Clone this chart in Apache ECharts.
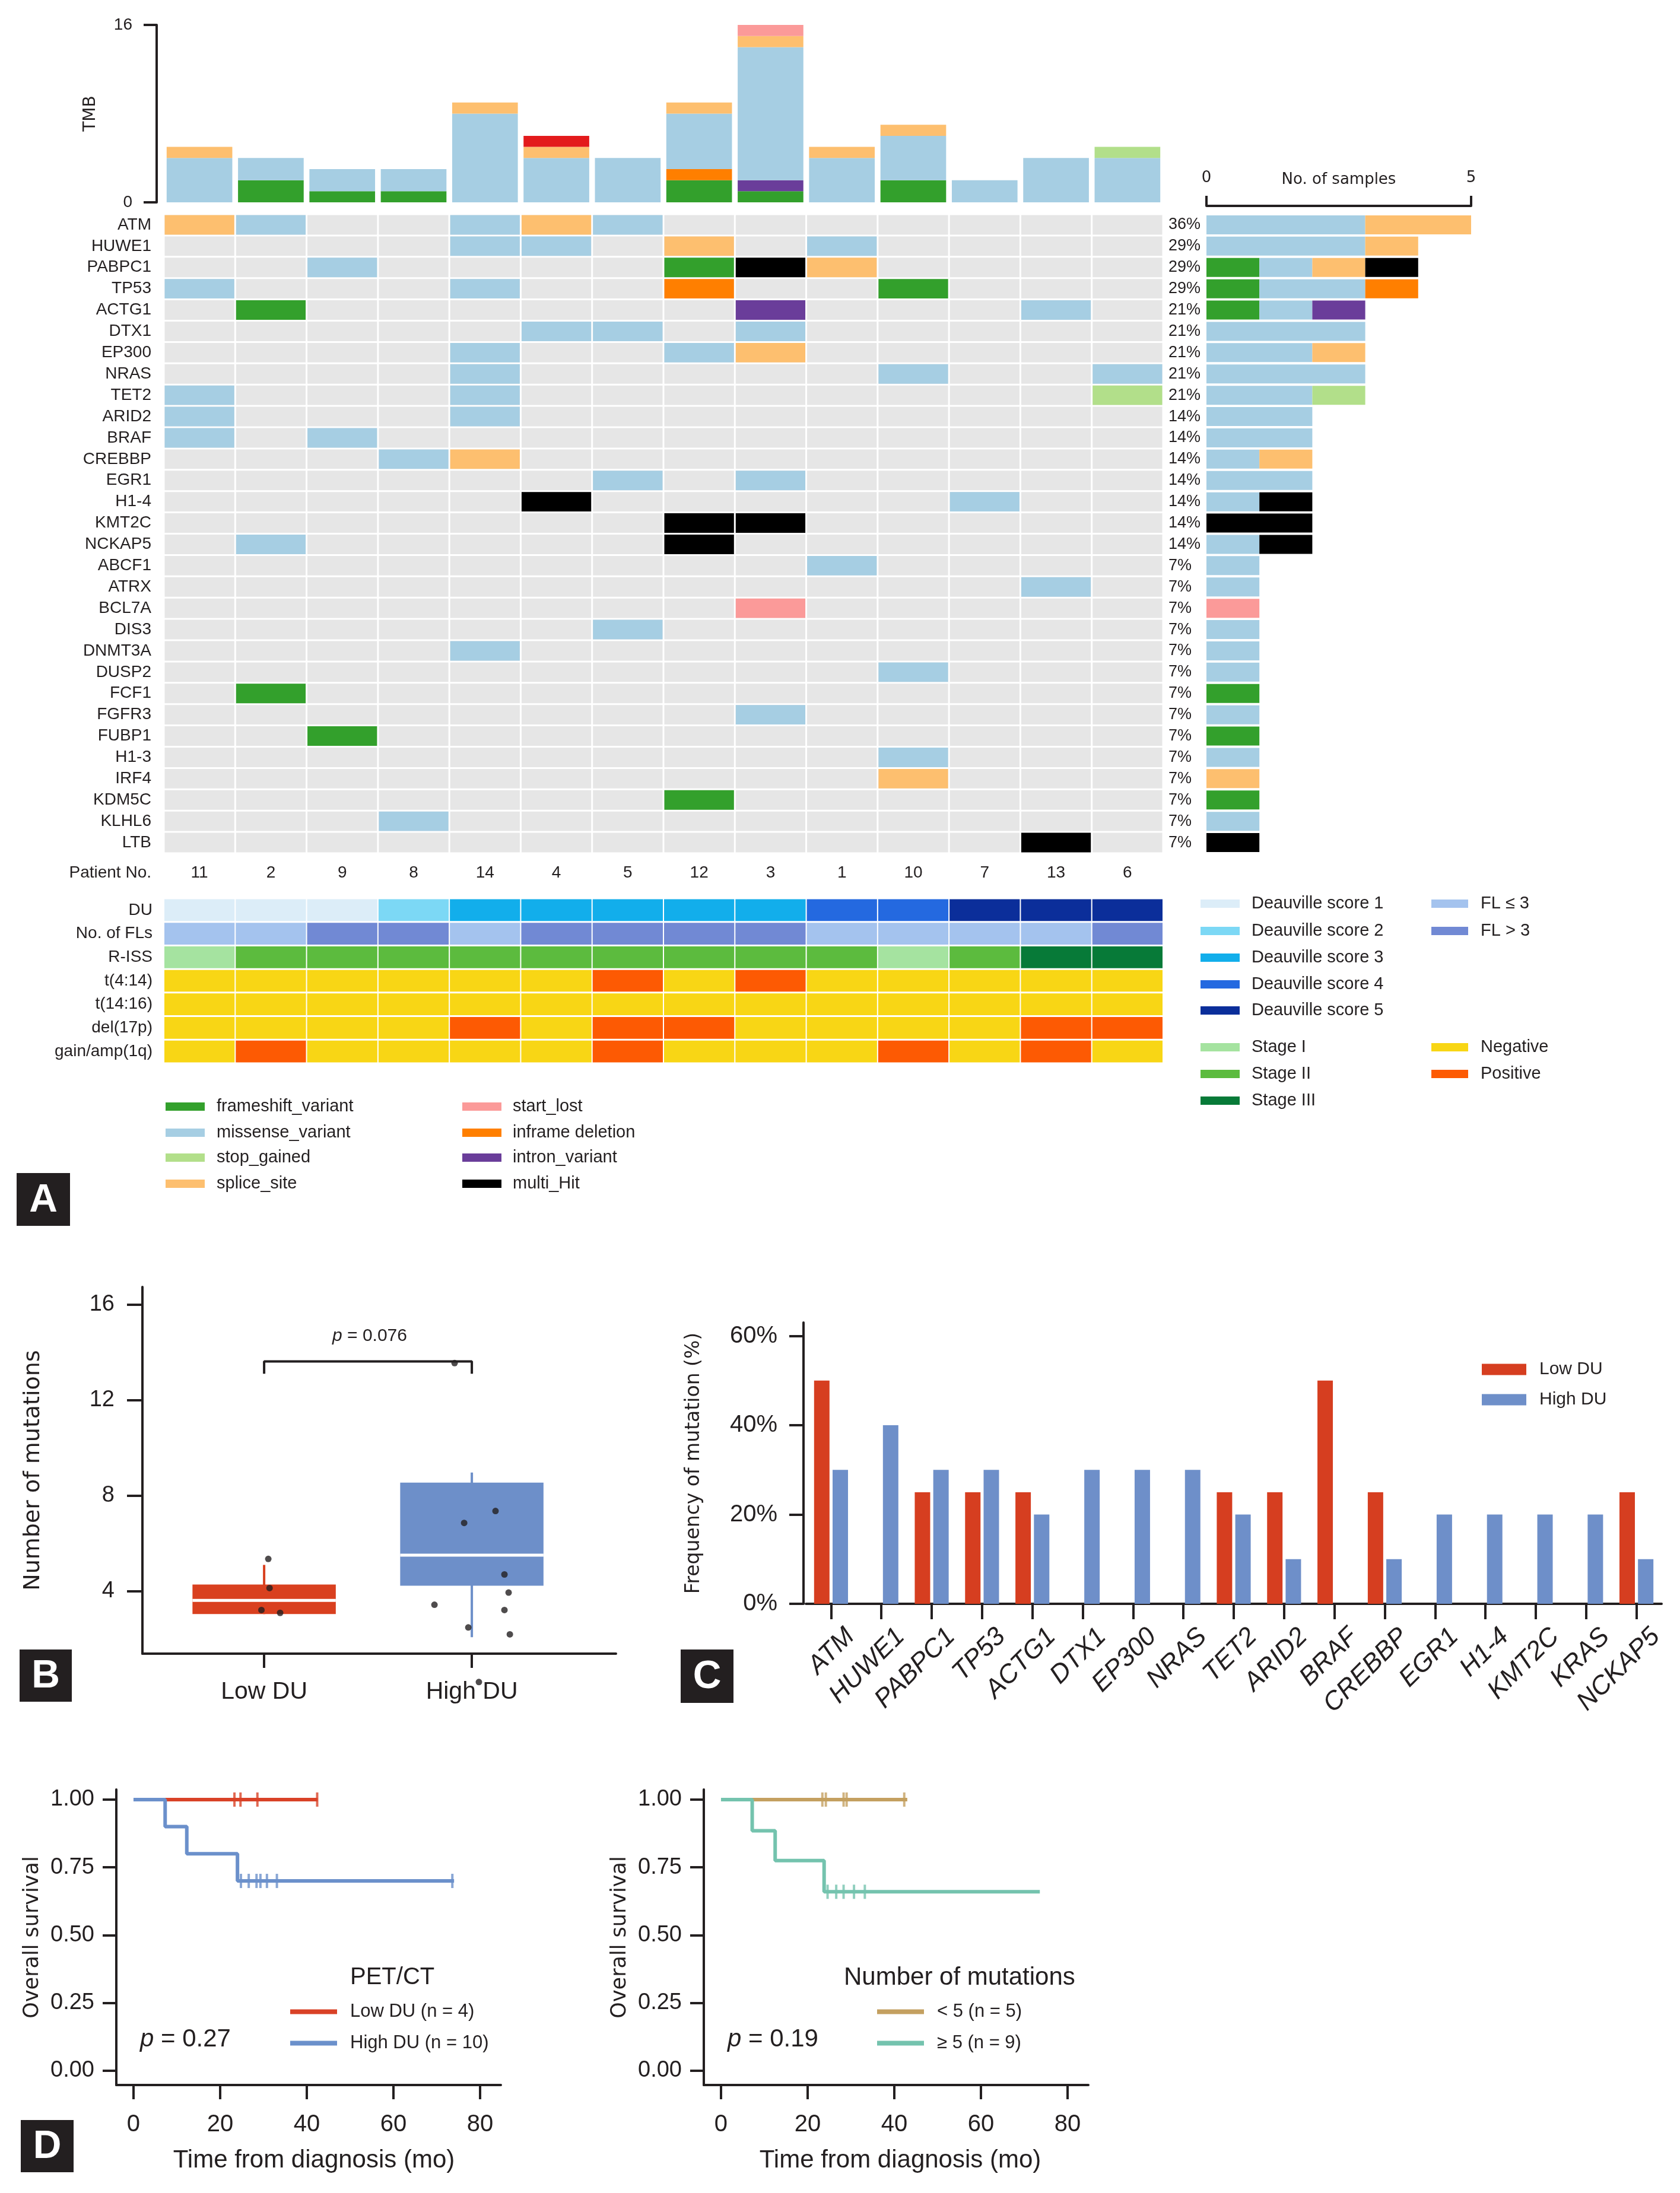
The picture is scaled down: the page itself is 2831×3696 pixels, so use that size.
<!DOCTYPE html>
<html><head><meta charset="utf-8">
<script src="https://cdn.jsdelivr.net/npm/echarts@6/dist/echarts.min.js"></script>
<style>html,body{margin:0;padding:0;background:#fff}#c{width:2831px;height:3696px}</style>
</head><body><div id="c"></div>
<script>
// ---------------- DATA ----------------
const patients = ['11','2','9','8','14','4','5','12','3','1','10','7','13','6'];
const genes = ['ATM','HUWE1','PABPC1','TP53','ACTG1','DTX1','EP300','NRAS','TET2','ARID2','BRAF','CREBBP','EGR1','H1-4','KMT2C','NCKAP5','ABCF1','ATRX','BCL7A','DIS3','DNMT3A','DUSP2','FCF1','FGFR3','FUBP1','H1-3','IRF4','KDM5C','KLHL6','LTB'];
// codes: F frameshift, M missense, G stop_gained, S splice_site, L start_lost, I inframe deletion, N intron_variant, H multi_Hit
const oncoRows = [
 'SM..MSM.......', // ATM
 '....MM.S.M....', // HUWE1
 '..M....FHS....', // PABPC1
 'M...M..I..F...', // TP53
 '.F......N...M.', // ACTG1
 '.....MM.M.....', // DTX1
 '....M..MS.....', // EP300
 '....M.....M..M', // NRAS
 'M...M........G', // TET2
 'M...M.........', // ARID2
 'M.M...........', // BRAF
 '...MS.........', // CREBBP
 '......M.M.....', // EGR1
 '.....H.....M..', // H1-4
 '.......HH.....', // KMT2C
 '.M.....H......', // NCKAP5
 '.........M....', // ABCF1
 '............M.', // ATRX
 '........L.....', // BCL7A
 '......M.......', // DIS3
 '....M.........', // DNMT3A
 '..........M...', // DUSP2
 '.F............', // FCF1
 '........M.....', // FGFR3
 '..F...........', // FUBP1
 '..........M...', // H1-3
 '..........S...', // IRF4
 '.......F......', // KDM5C
 '...M..........', // KLHL6
 '............H.'  // LTB
];
const mutTypes = ['frameshift_variant','missense_variant','stop_gained','splice_site','start_lost','inframe deletion','intron_variant','multi_Hit'];
const mutCodes = ['F','M','G','S','L','I','N','H'];

// TMB per patient, by variant class
const tmbFrameshift = [0,2,1,1,0,0,0,2,1,0,2,0,0,0];
const tmbIntron     = [0,0,0,0,0,0,0,0,1,0,0,0,0,0];
const tmbInframe    = [0,0,0,0,0,0,0,1,0,0,0,0,0,0];
const tmbMissense   = [4,2,2,2,8,4,4,5,12,4,4,2,4,4];
const tmbSplice     = [1,0,0,0,1,1,0,1,1,1,1,0,0,0];
const tmbStop       = [0,0,0,0,0,0,0,0,0,0,0,0,0,1];
const tmbOther      = [0,0,0,0,0,1,0,0,0,0,0,0,0,0];
const tmbStartLost  = [0,0,0,0,0,0,0,0,1,0,0,0,0,0];

// clinical annotation
const clinRows = ['DU','No. of FLs','R-ISS','t(4:14)','t(14:16)','del(17p)','gain/amp(1q)'];
const clinDU    = [1,1,1,2,3,3,3,3,3,4,4,5,5,5];   // Deauville score
const clinFLs   = [0,0,1,1,0,1,1,1,1,0,0,0,0,1];   // 0: FL <= 3, 1: FL > 3
const clinRISS  = [1,2,2,2,2,2,2,2,2,2,1,2,3,3];   // stage
const clinT414  = [0,0,0,0,0,0,1,0,1,0,0,0,0,0];
const clinT1416 = [0,0,0,0,0,0,0,0,0,0,0,0,0,0];
const clinDel17p= [0,0,0,0,1,0,1,1,0,0,0,0,1,1];
const clinGain1q= [0,1,0,0,0,0,1,0,0,0,1,0,1,0];

// Panel B
const boxGroups = ['Low DU','High DU'];
const boxStats = [[3.03,3.03,3.6,4.27,5.09],[2.06,4.22,5.5,8.54,8.96]]; // min,q1,median,q3,max
const lowDuPoints  = [[1.02,5.34],[1.026,4.12],[0.987,3.2],[1.077,3.08]];
const highDuPoints = [[1.917,13.55],[1.963,6.85],[2.114,7.35],[2.157,4.69],[2.177,3.93],[1.82,3.42],[2.157,3.2],[1.983,2.47],[2.183,2.18],[2.034,0.18]];

// Panel C
const freqGenes  = ['ATM','HUWE1','PABPC1','TP53','ACTG1','DTX1','EP300','NRAS','TET2','ARID2','BRAF','CREBBP','EGR1','H1-4','KMT2C','KRAS','NCKAP5'];
const freqLowDU  = [50,0,25,25,25,0,0,0,25,25,50,25,0,0,0,0,25];
const freqHighDU = [30,40,30,30,20,30,30,30,20,10,0,10,20,20,20,20,10];

// Panel D
const kmLowDU = [[0,1],[42.5,1]];
const kmLowDUCensor = [23.3,24.7,28.6,42.4];
const kmHighDU = [[0,1],[7.3,0.9],[12.3,0.8],[24.0,0.7],[74.0,0.7]];
const kmHighDUCensor = [24.8,26.6,28.4,29.3,30.8,33.1,73.6];
const kmLt5 = [[0,1],[43.0,1]];
const kmLt5Censor = [23.4,24.2,28.3,29.0,42.3];
const kmGe5 = [[0,1],[7.2,0.885],[12.5,0.775],[23.8,0.66],[73.6,0.66]];
const kmGe5Censor = [24.6,26.6,28.3,30.7,33.2];
const kmTicksX = [0,20,40,60,80];
const kmTicksY = [0,0.25,0.5,0.75,1];

// ---------------- STYLE ----------------
const INK = '#231f20';
const SANS = '"Liberation Sans", Arial, sans-serif';
const WIDE = '"DejaVu Sans", Verdana, sans-serif';
const typeColor = {
  'frameshift_variant':'#33a02c','missense_variant':'#a6cee3','stop_gained':'#b2df8a','splice_site':'#fdbf6f',
  'start_lost':'#fb9a99','inframe deletion':'#ff7f00','intron_variant':'#6a3d9a','multi_Hit':'#000000','other':'#e31a1c'
};
const clinColors = [
  ['#dcedf8','#7cd8f5','#12aeeb','#2469e0','#0b2e9a'],
  ['#a4c3ee','#7189d4'],
  ['#a5e3a0','#5cbb3e','#077a38'],
  ['#f8d615','#fd5a03'],['#f8d615','#fd5a03'],['#f8d615','#fd5a03'],['#f8d615','#fd5a03']
];
const RED = '#d9401f', BLUE = '#6d8fc9', TAN = '#c4a060', TEAL = '#74c3ae';

// ---------------- DERIVED ----------------
const nP = patients.length;
const geneCounts = oncoRows.map(r => r.split('').filter(c => c !== '.').length);
const genePct = geneCounts.map(c => Math.round(c / nP * 100) + '%');
const bgCells = [], mutCells = [];
genes.forEach((g, r) => { for (let c = 0; c < nP; c++) { bgCells.push([c, r, 0]); const ch = oncoRows[r][c]; if (ch !== '.') mutCells.push([c, r, mutCodes.indexOf(ch)]); } });
const clinValues = [clinDU.map(v=>v-1), clinFLs, clinRISS.map(v=>v-1), clinT414, clinT1416, clinDel17p, clinGain1q];
const clinCells = [];
clinValues.forEach((arr, r) => arr.forEach((v, c) => clinCells.push([c, r, v])));

function cellRenderer(colorFn, gx, gy) {
  return function (params, api) {
    const p = api.coord([api.value(0), api.value(1)]);
    const s = api.size([1, 1]);
    const w = s[0] - gx, h = s[1] - gy;
    return { type: 'rect', shape: { x: p[0] - w / 2, y: p[1] - h / 2, width: w, height: h }, style: { fill: colorFn(api.value(2), api.value(1)) } };
  };
}
function survAt(curve, t) { let s = curve[0][1]; curve.forEach(p => { if (p[0] <= t) s = p[1]; }); return s; }
const censorPts = (curve, ts) => ts.map(t => [t, survAt(curve, t)]);

// ---------------- AXES ----------------
const hid = { axisLine:{show:false}, axisTick:{show:false}, axisLabel:{show:false}, splitLine:{show:false} };
const axLine = { show:true, onZero:false, lineStyle:{ color:INK, width:4 } };
const axTick = (len, extra) => Object.assign({ show:true, length:len, lineStyle:{ color:INK, width:4 } }, extra || {});

const kmX = (gi) => ({ gridIndex:gi, type:'value', min:-3.97, max:84.8, axisLine:axLine,
  axisTick:axTick(24,{customValues:kmTicksX}), axisLabel:{customValues:kmTicksX, fontSize:40, color:INK, margin:47, fontFamily:SANS},
  splitLine:{show:false} });
const kmY = (gi) => ({ gridIndex:gi, type:'value', min:-0.0525, max:1.037, axisLine:axLine,
  axisTick:axTick(23,{customValues:kmTicksY}), axisLabel:{customValues:kmTicksY, formatter:v=>v.toFixed(2), fontSize:38, color:INK, margin:37, fontFamily:SANS},
  splitLine:{show:false}, name:'Overall survival', nameLocation:'middle', nameGap:124, nameMoveOverlap:false,
  nameTextStyle:{fontSize:35, color:INK, fontFamily:WIDE} });

const xAxis = [
  Object.assign({ gridIndex:0, type:'category', data:patients }, hid),
  { gridIndex:1, type:'category', data:patients, position:'bottom', axisLine:{show:false}, axisTick:{show:false}, splitLine:{show:false},
    axisLabel:{ interval:0, fontSize:28, color:INK, margin:19 } },
  { gridIndex:2, type:'value', min:0, max:5, interval:5, position:'top', offset:14, axisLine:axLine, axisTick:axTick(17),
    axisLabel:{ fontFamily:WIDE, fontSize:26, color:INK, margin:34 }, splitLine:{show:false},
    name:'No. of samples', nameLocation:'middle', nameGap:31, nameMoveOverlap:false, nameTextStyle:{ fontFamily:WIDE, fontSize:26, color:INK } },
  Object.assign({ gridIndex:3, type:'category', data:patients }, hid),
  { gridIndex:4, type:'value', min:0.414, max:2.694, axisLine:axLine, axisTick:axTick(24,{customValues:[1,2]}),
    axisLabel:{ customValues:[1,2], formatter:v=>boxGroups[Math.round(v)-1], fontSize:41, color:INK, margin:44 }, splitLine:{show:false} },
  { gridIndex:5, type:'category', data:freqGenes, axisLine:axLine, axisTick:axTick(26,{alignWithLabel:true}),
    axisLabel:{ interval:0, rotate:45, fontSize:44, fontStyle:'italic', color:INK, margin:16, align:'right', verticalAlign:'top', padding:[24,0,0,0] } },
  kmX(6), kmX(7)
];
const yAxis = [
  { gridIndex:0, type:'value', min:0, max:16, interval:16, offset:12, axisLine:axLine, axisTick:axTick(22),
    axisLabel:{ fontSize:28, color:INK, margin:41 }, splitLine:{show:false},
    name:'TMB', nameLocation:'middle', nameGap:97, nameMoveOverlap:false, nameTextStyle:{ fontFamily:WIDE, fontSize:28, color:INK } },
  { gridIndex:1, type:'category', data:genes, inverse:true, axisLine:{show:false}, axisTick:{show:false}, splitLine:{show:false},
    axisLabel:{ interval:0, fontSize:28, color:INK, margin:21 } },
  { gridIndex:1, type:'category', data:genes, inverse:true, position:'right', axisLine:{show:false}, axisTick:{show:false}, splitLine:{show:false},
    axisLabel:{ interval:0, fontSize:27, color:INK, margin:9, formatter:(v,i)=>genePct[i] } },
  Object.assign({ gridIndex:2, type:'category', data:genes, inverse:true }, hid),
  { gridIndex:3, type:'category', data:clinRows, inverse:true, axisLine:{show:false}, axisTick:{show:false}, splitLine:{show:false},
    axisLabel:{ interval:0, fontSize:28, color:INK, margin:19 } },
  { gridIndex:4, type:'value', min:1.37, max:16.74, axisLine:axLine, axisTick:axTick(26,{customValues:[4,8,12,16]}),
    axisLabel:{ customValues:[4,8,12,16], fontSize:38, color:INK, margin:47 }, splitLine:{show:false},
    name:'Number of mutations', nameLocation:'middle', nameGap:165, nameMoveOverlap:false, nameTextStyle:{ fontFamily:WIDE, fontSize:38, color:INK } },
  { gridIndex:5, type:'value', min:0, max:63, offset:4, axisLine:axLine, axisTick:axTick(24,{customValues:[0,20,40,60]}),
    axisLabel:{ customValues:[0,20,40,60], formatter:'{value}%', fontSize:40, color:INK, margin:44 }, splitLine:{show:false},
    name:'Frequency of mutation (%)', nameLocation:'middle', nameGap:168, nameMoveOverlap:false, nameTextStyle:{ fontFamily:WIDE, fontSize:33, color:INK } },
  kmY(6), kmY(7)
];

// ---------------- SERIES ----------------
const series = [];
[['frameshift_variant',tmbFrameshift],['intron_variant',tmbIntron],['inframe deletion',tmbInframe],['missense_variant',tmbMissense],
 ['splice_site',tmbSplice],['stop_gained',tmbStop],['other',tmbOther],['start_lost',tmbStartLost]].forEach(([n, d]) => {
  series.push({ name:n, type:'bar', xAxisIndex:0, yAxisIndex:0, stack:'tmb', data:d, barCategoryGap:'8%', itemStyle:{ color:typeColor[n] } });
});
series.push({ type:'custom', name:'bg', xAxisIndex:1, yAxisIndex:1, data:bgCells, renderItem:cellRenderer(() => '#e6e6e6', 3, 3) });
series.push({ type:'custom', name:'mutations', xAxisIndex:1, yAxisIndex:1, data:mutCells, renderItem:cellRenderer(k => typeColor[mutTypes[k]], 3, 3) });
mutTypes.forEach((t, k) => {
  series.push({ name:t, type:'bar', xAxisIndex:2, yAxisIndex:3, stack:'samples', barCategoryGap:'11%', itemStyle:{ color:typeColor[t] },
    data: oncoRows.map(r => r.split('').filter(c => c === mutCodes[k]).length) });
});
series.push({ type:'custom', name:'clinical', xAxisIndex:3, yAxisIndex:4, data:clinCells, renderItem:cellRenderer((v, r) => clinColors[r][v], 2, 3) });

// Panel B
const boxColors = [RED, BLUE];
series.push({ type:'custom', name:'boxes', xAxisIndex:4, yAxisIndex:5, data: boxStats.map((s, i) => [i + 1].concat(s)),
  encode:{ x:0, y:[1,2,3,4,5] },
  renderItem: function (params, api) {
    const x = api.value(0), col = boxColors[params.dataIndex];
    const pMin = api.coord([x, api.value(1)]), pQ1 = api.coord([x, api.value(2)]), pMd = api.coord([x, api.value(3)]);
    const pQ3 = api.coord([x, api.value(4)]), pMax = api.coord([x, api.value(5)]);
    const hw = api.size([0.69, 0])[0] / 2;
    return { type:'group', children:[
      { type:'line', shape:{ x1:pMin[0], y1:pMin[1], x2:pMax[0], y2:pMax[1] }, style:{ stroke:col, lineWidth:4 } },
      { type:'rect', shape:{ x:pQ3[0]-hw, y:pQ3[1], width:2*hw, height:pQ1[1]-pQ3[1] }, style:{ fill:col } },
      { type:'line', shape:{ x1:pMd[0]-hw, y1:pMd[1], x2:pMd[0]+hw, y2:pMd[1] }, style:{ stroke:'#fff', lineWidth:5 } }
    ]};
  } });
series.push({ type:'scatter', name:'points', xAxisIndex:4, yAxisIndex:5, data:lowDuPoints.concat(highDuPoints), symbolSize:11, clip:false, itemStyle:{ color:INK } });
series.push({ type:'line', name:'bracket', xAxisIndex:4, yAxisIndex:5, data:[[1,13.1],[1,13.62],[2,13.62],[2,13.1]], symbol:'none', lineStyle:{ color:INK, width:4 } });

// Panel C
series.push({ name:'Low DU', type:'bar', xAxisIndex:5, yAxisIndex:6, data:freqLowDU, barWidth:26, barGap:'20%', itemStyle:{ color:'#d63e20' } });
series.push({ name:'High DU', type:'bar', xAxisIndex:5, yAxisIndex:6, data:freqHighDU, barWidth:26, barGap:'20%', itemStyle:{ color:'#6e8fc9' } });

// Panel D
function km(name, gi, curve, cens, color) {
  series.push({ name, type:'line', xAxisIndex:gi, yAxisIndex:gi+1, step:'end', data:curve, symbol:'none', itemStyle:{ color }, lineStyle:{ color, width:6 } });
  series.push({ name, type:'scatter', xAxisIndex:gi, yAxisIndex:gi+1, data:censorPts(curve, cens), symbol:'rect', symbolSize:[4,24], itemStyle:{ color } });
}
km('Low DU (n = 4)', 6, kmLowDU, kmLowDUCensor, '#d94227');
km('High DU (n = 10)', 6, kmHighDU, kmHighDUCensor, '#6b90cb');
km('< 5 (n = 5)', 7, kmLt5, kmLt5Censor, TAN);
km('≥ 5 (n = 9)', 7, kmGe5, kmGe5Censor, TEAL);

// ---------------- GRAPHIC ----------------
const G = [];
function txt(x, y, text, size, o) {
  o = o || {};
  const al = o.align || 'left';
  return { type:'text', x, y, z:10, style:{ text, fontSize:size, fontFamily:o.family || SANS, fontWeight:o.weight || 'normal', fill:o.fill || INK,
    textAlign:al, align:al, textVerticalAlign:'middle', verticalAlign:'middle', rich:o.rich } };
}
function swatch(x, yc, w, h, color) { return { type:'rect', z:10, shape:{ x, y:yc - h/2, width:w, height:h }, style:{ fill:color } }; }
function panelLabel(x, y, w, h, ch) {
  G.push({ type:'rect', z:10, shape:{ x, y, width:w, height:h }, style:{ fill:INK } });
  G.push(txt(x + w/2, y + h/2 + 2, ch, 66, { align:'center', fill:'#fff', weight:'bold' }));
}
G.push(txt(255, 1471, 'Patient No.', 28, { align:'right' }));
// mutation legend
const mutLegY = [1865, 1909, 1951, 1995];
mutTypes.forEach((t, i) => {
  const col = i < 4 ? 0 : 1, row = i % 4;
  G.push(swatch([279, 779][col], mutLegY[row], 66, 14, typeColor[t]));
  G.push(txt([365, 864][col], mutLegY[row], t, 29));
});
// clinical legends
[['Deauville score 1',0,0],['Deauville score 2',0,1],['Deauville score 3',0,2],['Deauville score 4',0,3],['Deauville score 5',0,4]].forEach(([t,r,v],i)=>{
  const y = [1523,1569,1614,1659,1703][i]; G.push(swatch(2023, y, 66, 14, clinColors[r][v])); G.push(txt(2109, y, t, 29)); });
[['FL ≤ 3',1,0],['FL > 3',1,1]].forEach(([t,r,v],i)=>{ const y=[1523,1569][i]; G.push(swatch(2412, y, 62, 14, clinColors[r][v])); G.push(txt(2495, y, t, 29)); });
[['Stage I',2,0],['Stage II',2,1],['Stage III',2,2]].forEach(([t,r,v],i)=>{ const y=[1765,1810,1855][i]; G.push(swatch(2023, y, 66, 14, clinColors[r][v])); G.push(txt(2109, y, t, 29)); });
[['Negative',3,0],['Positive',3,1]].forEach(([t,r,v],i)=>{ const y=[1765,1810][i]; G.push(swatch(2412, y, 62, 14, clinColors[r][v])); G.push(txt(2495, y, t, 29)); });
// panel texts
G.push(txt(623, 2252, '{i|p} = 0.076', 30, { align:'center', rich:{ i:{ fontStyle:'italic', fontSize:30, fontFamily:SANS, fill:INK } } }));
G.push(txt(529, 3641, 'Time from diagnosis (mo)', 42, { align:'center' }));
G.push(txt(1517, 3641, 'Time from diagnosis (mo)', 42, { align:'center' }));
G.push(txt(590, 3333, 'PET/CT', 40));
G.push(txt(1422, 3333, 'Number of mutations', 42));
G.push(txt(236, 3437, '{i|p} = 0.27', 42, { rich:{ i:{ fontStyle:'italic', fontSize:42, fontFamily:SANS, fill:INK } } }));
G.push(txt(1226, 3437, '{i|p} = 0.19', 42, { rich:{ i:{ fontStyle:'italic', fontSize:42, fontFamily:SANS, fill:INK } } }));
panelLabel(28, 1977, 90, 89, 'A');
panelLabel(33, 2780, 88, 88, 'B');
panelLabel(1147, 2780, 89, 90, 'C');
panelLabel(35, 3573, 89, 88, 'D');

const legText = (s) => ({ fontSize:s, color:INK, fontFamily:SANS, padding:[0,0,0,17] });
const option = {
  animation:false,
  backgroundColor:'#ffffff',
  textStyle:{ fontFamily:SANS, color:INK },
  grid:[
    { left:276, top:42, width:1684, height:299 },
    { left:276, top:361, width:1684, height:1077 },
    { left:2033, top:361, width:446, height:1077 },
    { left:276, top:1514, width:1684, height:278 },
    { left:240, top:2169, width:798, height:618 },
    { left:1358, top:2229, width:1442, height:474 },
    { left:196, top:3016, width:648, height:498 },
    { left:1186, top:3016, width:648, height:498 }
  ],
  xAxis, yAxis,
  legend:[
    { data:['Low DU','High DU'], left:2497, top:2293, padding:0, orient:'vertical', icon:'rect', itemWidth:75, itemHeight:19, itemGap:21, selectedMode:false, textStyle:legText(30) },
    { data:['Low DU (n = 4)','High DU (n = 10)'], left:489, top:3375, padding:0, orient:'vertical', icon:'rect', itemWidth:79, itemHeight:8, itemGap:22, selectedMode:false, textStyle:legText(31) },
    { data:['< 5 (n = 5)','≥ 5 (n = 9)'], left:1478, top:3375, padding:0, orient:'vertical', icon:'rect', itemWidth:79, itemHeight:8, itemGap:22, selectedMode:false, textStyle:legText(31) }
  ],
  series,
  graphic:{ elements:G }
};
const chart = echarts.init(document.getElementById('c'), null, { renderer:'canvas', width:2831, height:3696 });
chart.setOption(option);
</script></body></html>
